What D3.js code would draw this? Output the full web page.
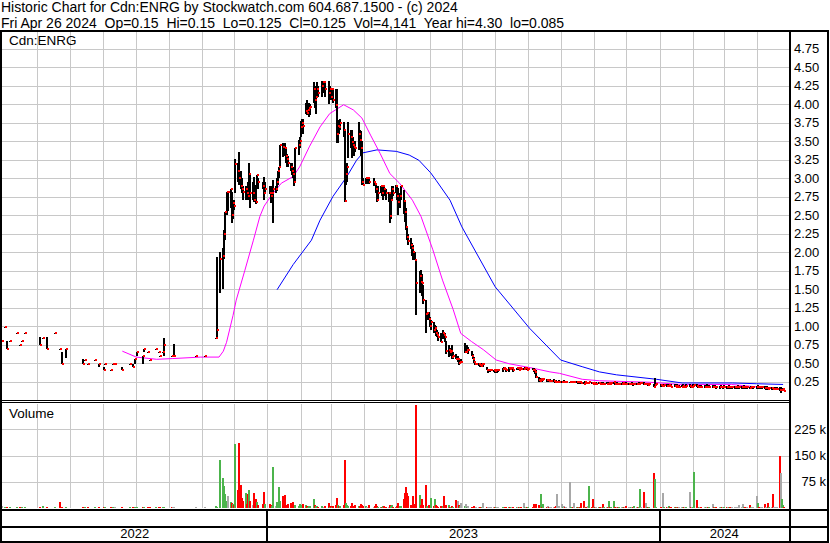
<!DOCTYPE html>
<html>
<head>
<meta charset="utf-8">
<script src="https://cdn.jsdelivr.net/npm/d3@7"></script>
<style>
  body { margin: 0; background: #fff; }
  svg { display: block; font-family: "Liberation Sans", Arial, sans-serif; }
</style>
</head>
<body>
<div id="chart"></div>
<script>
const _ = null;

// header texts
const titleLine = "Historic Chart for Cdn:ENRG by Stockwatch.com 604.687.1500 - (c) 2024";
const quoteLine = "Fri Apr 26 2024  Op=0.15  Hi=0.15  Lo=0.125  Cl=0.125  Vol=4,141  Year hi=4.30  lo=0.085";

// axis labels
const priceTicks = [0.25,0.5,0.75,1,1.25,1.5,1.75,2,2.25,2.5,2.75,3,3.25,3.5,3.75,4,4.25,4.5,4.75];
const volumeTicks = [75,150,225];
const years = ["2022","2023","2024"];

// thin trading before the daily run (H / L / C, volume in thousands)
const earlyDates = ["2022-04-29","2022-05-02","2022-05-04","2022-05-06","2022-05-13","2022-05-16","2022-05-18","2022-05-20",
  "2022-06-03","2022-06-06","2022-06-10","2022-06-17","2022-06-22","2022-06-24","2022-06-28","2022-07-13","2022-07-15",
  "2022-07-18","2022-07-25","2022-07-28","2022-08-02","2022-08-03","2022-08-08","2022-08-10","2022-08-12","2022-08-19",
  "2022-08-26","2022-08-29","2022-08-31","2022-09-02","2022-09-07","2022-09-08","2022-09-12","2022-09-14","2022-09-19",
  "2022-09-22","2022-09-23","2022-09-26","2022-09-27","2022-10-04","2022-10-05","2022-10-06","2022-10-27","2022-11-04"];
const earlyHigh  = [.80,.99,.80,.80,.90,.75,.80,.90,.85,.84,.85,.90,.69,.65,.69,.55,.54,.49,.54,.49,.45,.49,.41,.49,.49,.45,.49,.49,.55,.65,.60,.69,.65,.54,.69,.65,.60,.65,.84,.60,.60,.76,.60,.60];
const earlyLow   = [.80,.99,.69,.80,.90,.75,.80,.90,.74,.84,.69,.90,.69,.49,.57,.49,.54,.49,.54,.45,.41,.49,.41,.49,.49,.41,.49,.45,.49,.60,.49,.65,.65,.54,.69,.65,.60,.65,.60,.60,.60,.59,.60,.60];
const earlyClose = [.80,.99,.69,.80,.90,.75,.80,.90,.74,.84,.69,.90,.69,.49,.69,.49,.54,.49,.54,.49,.41,.49,.41,.49,.49,.41,.49,.45,.55,.65,.60,.69,.65,.54,.69,.65,.60,.65,.75,.60,.60,.60,.60,.60];
const earlyVolume = [7,2,3,2,1,2,1,2,3,6,4,2,17,3,2,2,1,2,1,2,3,1,2,1,2,3,2,1,2,3,2,1,2,1,2,1,2,1,3,2,4,2,1,1];

// daily run, one line per week Mon..Fri starting 2022-11-14 (null = no trade / holiday)
const dailyStart = "2022-11-14";
const dailyHigh = [
  .84,1.93,_,_,2.00, 2.05,2.30,2.54,2.81,2.81, 2.85,2.81,2.70,2.70,3.26, 3.20,3.35,3.10,3.00,2.89,
  2.89,2.89,2.95,3.20,3.05, 2.95,3.02,2.90,3.04,3.00, _,_,2.95,3.02,2.95, _,2.89,2.89,2.85,2.97,
  2.89,3.00,3.10,3.15,3.45, 3.47,3.47,3.40,3.32,3.30, 3.20,3.20,3.15,3.04,3.40, 3.51,3.55,3.77,3.80,3.80,
  4.02,4.05,4.00,4.01,4.00, 4.30,4.25,4.20,4.30,4.25, _,4.31,4.30,4.31,4.28, 4.31,4.25,4.20,4.20,4.20,
  4.20,4.20,3.78,3.76,3.80, 3.76,3.65,3.10,3.20,3.76, 3.65,3.65,3.55,3.45,3.50, 3.76,3.65,3.63,3.50,3.00,
  3.00,3.00,3.00,3.00,_, 3.00,2.95,2.92,2.89,2.89, 2.89,2.85,2.89,2.89,2.85, 2.81,2.80,2.75,2.89,2.89,
  2.90,2.89,2.86,2.80,2.89, 2.84,2.70,2.60,2.34,2.25, 2.19,2.12,2.10,2.00,1.90, _,1.75,1.76,1.70,1.55,
  1.35,1.19,1.19,1.12,1.08, 1.05,1.02,1.00,.95,.92, .90,.94,.92,.90,.80, .74,.70,.68,.74,.65,
  .62,.60,.57,.55,.55, _,.77,.74,.74,.72, .66,.62,.58,.52,.50, .50,.50,.48,.50,.50,
  .45,.41,.41,.41,.41, .41,.41,.41,.40,.41, _,.43,.45,.43,.42, .45,.43,.45,.43,.43,
  .43,.45,.43,.44,.43, .43,.45,.44,.43,.43, _,.43,.43,.42,.41, .31,.30,.30,.29,.30,
  .29,.28,.28,.28,.27, .28,.27,.27,.26,.27, .26,.26,.27,.26,.25, _,.25,.26,.26,.26,
  .26,.25,.26,.25,.25, .25,.26,.25,.24,.25, .25,.24,.25,.24,.25, .24,.25,.24,.24,.23,
  .24,.23,.24,.23,.24, .24,.23,.24,.23,.23, .23,.24,.23,.23,.24, .23,.23,.24,.23,.23,
  .23,.23,.24,.24,.24, .24,.23,.23,.22,.23, _,_,.22,.30,.23, _,.22,.22,.22,.21,
  .21,.21,.22,.21,.21, .21,.20,.21,.20,.20, .20,.21,.20,.20,.21, .21,.20,.20,.21,.21,
  .21,.20,.20,.20,.20, .20,.20,.21,.20,.20, _,.20,.19,.20,.19, .19,.20,.19,.19,.20,
  .19,.19,.20,.19,.19, .19,.19,.19,.20,.19, .19,.19,.20,.19,.19, .18,.19,.19,.19,_,
  .19,.20,.19,.19,.19, .19,.18,.19,.18,.18, .18,.18,.17,.17,.17, .17,.17,.16,.15,.15
];
const dailyLow = [
  .84,.84,_,_,1.45, 1.50,1.90,2.16,2.50,2.55, 2.60,2.39,2.45,2.57,2.80, 2.95,2.90,2.85,2.80,2.70,
  2.70,2.72,2.70,2.74,2.60, 2.70,2.68,2.65,2.89,2.85, _,_,2.85,2.70,2.78, _,2.78,2.66,2.70,2.39,
  2.80,2.82,2.90,3.00,3.15, 3.28,3.30,3.20,3.15,3.15, 3.10,3.04,3.00,2.89,2.95, 3.31,3.40,3.55,3.60,3.60,
  3.86,3.85,3.85,3.82,3.85, 4.01,3.95,3.87,4.08,4.10, _,4.10,4.15,4.15,4.10, 4.00,4.05,4.05,4.08,4.02,
  3.95,3.47,3.47,3.60,3.65, 3.55,2.68,2.90,2.95,3.27, 3.40,3.27,3.30,3.30,3.35, 3.38,3.45,3.30,2.90,2.90,
  2.92,2.92,2.95,2.92,_, 2.89,2.89,2.80,2.68,2.70, 2.80,2.75,2.70,2.75,2.70, 2.68,2.39,2.45,2.70,2.75,
  2.80,2.70,2.50,2.60,2.70, 2.52,2.40,2.30,2.16,2.10, 2.04,1.95,1.89,1.89,1.15, _,1.45,1.50,1.40,1.30,
  .90,1.08,1.08,.98,.95, .90,.90,.86,.85,.80, .78,.83,.83,.78,.62, .58,.60,.60,.56,.56,
  .55,.52,.47,.48,.50, _,.63,.66,.66,.62, .60,.55,.50,.47,.47, .46,.45,.45,.46,.45,
  .40,.37,.38,.38,.39, .38,.37,.38,.37,.38, _,.38,.40,.40,.38, .38,.40,.41,.40,.38,
  .40,.41,.40,.41,.40, .40,.42,.41,.40,.40, _,.40,.38,.35,.30, .25,.24,.26,.25,.26,
  .25,.24,.24,.25,.24, .24,.23,.23,.23,.23, .23,.23,.24,.23,.23, _,.23,.23,.23,.23,
  .23,.22,.23,.22,.22, .22,.23,.22,.21,.22, .22,.21,.22,.21,.22, .21,.22,.21,.20,.21,
  .21,.20,.21,.20,.21, .21,.20,.21,.20,.20, .20,.21,.20,.20,.20, .20,.20,.21,.19,.20,
  .20,.20,.21,.21,.21, .20,.20,.20,.19,.20, _,_,.17,.18,.19, _,.18,.18,.17,.18,
  .18,.17,.18,.17,.17, .17,.17,.17,.16,.17, .17,.17,.16,.17,.17, .17,.16,.17,.17,.17,
  .17,.16,.16,.17,.16, .16,.16,.17,.16,.16, _,.16,.16,.16,.15, .15,.16,.16,.15,.16,
  .15,.15,.16,.15,.15, .15,.15,.15,.16,.15, .15,.15,.16,.15,.15, .15,.15,.15,.15,_,
  .15,.16,.15,.15,.15, .15,.14,.15,.14,.14, .14,.14,.13,.13,.13, .12,.10,.12,.12,.125
];
const dailyClose = [
  .84,.95,_,_,1.90, 1.95,2.25,2.54,2.81,2.81, 2.85,2.50,2.66,2.62,3.19, 3.10,3.00,2.89,2.85,2.81,
  2.85,2.80,2.75,3.05,2.80, 2.80,2.70,2.68,3.04,2.95, _,_,2.89,2.80,2.85, _,2.80,2.75,2.80,2.85,
  2.85,2.95,3.10,3.15,3.45, 3.42,3.40,3.30,3.26,3.20, 3.15,3.10,3.05,2.95,3.40, 3.45,3.50,3.69,3.75,3.70,
  3.90,3.88,3.92,3.95,3.96, 4.20,4.05,4.10,4.20,4.15, _,4.25,4.30,4.30,4.20, 4.15,4.20,4.10,4.20,4.05,
  3.99,3.60,3.70,3.69,3.75, 3.65,2.69,3.05,3.15,3.60, 3.55,3.49,3.45,3.42,3.40, 3.60,3.51,3.40,2.95,2.90,
  3.00,3.00,3.00,2.95,_, 2.95,2.92,2.85,2.70,2.80, 2.89,2.80,2.89,2.85,2.80, 2.80,2.49,2.70,2.85,2.80,
  2.89,2.75,2.68,2.75,2.89, 2.69,2.54,2.34,2.20,2.15, 2.10,2.05,2.00,1.89,1.58, _,1.67,1.60,1.58,1.35,
  1.16,1.17,1.10,1.00,1.05, .94,.97,.90,.88,.85, .79,.90,.88,.85,.66, .68,.65,.66,.58,.60,
  .56,.56,.50,.52,.52, _,.65,.65,.68,.68, .60,.56,.52,.48,.48, .48,.47,.46,.48,.48,
  .40,.40,.40,.40,.40, .40,.39,.40,.40,.40, _,.42,.43,.42,.40, .43,.42,.43,.43,.40,
  .43,.43,.41,.43,.42, .42,.43,.43,.41,.42, _,.41,.40,.38,.31, .27,.26,.29,.27,.28,
  .27,.27,.26,.26,.26, .26,.25,.24,.24,.24, .24,.25,.25,.24,.24, _,.24,.25,.24,.24,
  .25,.24,.25,.24,.23, .22,.25,.23,.23,.24, .23,.22,.23,.22,.22, .23,.22,.22,.21,.22,
  .22,.21,.23,.22,.23, .24,.22,.22,.21,.22, .22,.23,.22,.22,.21, .21,.22,.22,.21,.22,
  .22,.21,.22,.23,.23, .21,.21,.22,.20,.21, _,_,.18,.20,.21, _,.20,.19,.19,.20,
  .19,.19,.20,.19,.18, .19,.18,.19,.18,.18, .18,.19,.18,.18,.19, .19,.18,.18,.19,.20,
  .19,.17,.18,.18,.17, .17,.18,.18,.17,.18, _,.18,.17,.18,.17, .17,.18,.17,.17,.18,
  .17,.17,.18,.17,.17, .17,.17,.17,.17,.17, .17,.17,.18,.17,.17, .16,.17,.17,.17,_,
  .17,.18,.17,.17,.17, .16,.16,.16,.15,.16, .16,.15,.15,.15,.15, .13,.13,.14,.15,.125
];
const dailyVolume = [
  6,4,_,_,138, 87,63,40,20,35, 17,15,12,10,182, 52,185,65,30,20,
  42,12,39,52,20, 8,44,25,17,10, _,_,12,46,11, _,11,8,6,116,
  5,17,8,59,20, 35,37,8,6,11, 15,6,17,8,10, 6,11,8,5,12,
  8,6,4,5,7, 25,8,5,6,4, _,5,4,3,6, 15,4,5,4,6,
  8,30,10,6,5, 10,137,15,8,6, 6,15,5,4,8, 5,6,11,9,6,
  5,3,2,8,_, 3,5,12,6,4, 4,3,5,6,3, 3,8,5,9,4,
  4,6,13,5,7, 25,44,59,44,35, 10,8,35,12,294, _,37,8,25,10,
  65,6,8,5,30, 5,25,8,6,4, 6,5,33,4,8, 10,1,4,6,3,
  22,20,8,5,13, _,6,11,4,5, 4,3,5,3,2, 2,3,2,4,13,
  3,3,2,2,1, 2,2,1,2,3, _,3,2,2,3, 2,3,2,1,3,
  2,1,2,2,3, 13,2,2,3,2, _,3,11,4,11, 8,6,41,3,11,
  3,5,2,4,2, 3,4,5,41,6, 11,3,5,4,3, _,73,4,3,15,
  3,4,2,3,15, 19,3,4,5,63, 3,25,4,3,2, 3,4,2,11,2,
  2,3,20,3,4, 20,3,4,3,2, 2,3,2,1,6, 2,2,2,3,6,
  2,2,3,54,3, 46,15,3,4,2, _,_,100,83,3, _,4,3,44,3,
  3,2,6,3,2, 3,2,3,2,1, 2,3,2,1,3, 47,3,2,2,104,
  23,3,2,2,2, 2,3,2,3,2, _,11,2,3,2, 2,1,2,3,2,
  2,1,3,2,1, 1,2,3,2,8, 2,11,3,2,2, 8,2,3,2,_,
  33,15,3,2,2, 11,2,3,15,2, 3,39,2,3,2, 150,99,27,8,4.141
];

// moving averages as drawn on the chart
const fastMaDates = ["2022-08-19","2022-09-01","2022-09-20","2022-10-05","2022-10-31","2022-11-17","2022-11-21","2022-11-24",
  "2022-11-27","2022-11-30","2022-12-03","2022-12-11","2022-12-19","2022-12-25","2022-12-29","2023-01-05","2023-01-14",
  "2023-01-25","2023-01-31","2023-02-09","2023-02-19","2023-02-28","2023-03-13","2023-03-22","2023-03-30","2023-04-07",
  "2023-04-16","2023-04-25","2023-05-04","2023-05-16","2023-05-24","2023-06-04","2023-06-13","2023-06-23","2023-06-30",
  "2023-07-10","2023-07-21","2023-08-02","2023-08-14","2023-09-05","2023-09-21","2023-09-30","2023-10-21","2023-11-06",
  "2023-12-23","2024-01-21","2024-03-08","2024-04-06","2024-04-25"];
const fastMa = [.66,.58,.55,.56,.58,.58,.66,.78,.96,1.14,1.35,1.75,2.16,2.48,2.62,2.77,2.93,3.02,3.15,3.42,3.69,3.87,3.99,
  3.92,3.81,3.58,3.33,3.06,2.93,2.70,2.48,2.03,1.62,1.22,.90,.79,.68,.54,.49,.43,.38,.36,.28,.26,.24,.21,.21,.17,.14];
const slowMaDates = ["2023-01-10","2023-01-25","2023-02-11","2023-02-19","2023-03-03","2023-03-16","2023-03-25","2023-03-31",
  "2023-04-13","2023-05-01","2023-05-13","2023-05-22","2023-06-02","2023-06-07","2023-06-20","2023-07-01","2023-08-01",
  "2023-09-02","2023-10-01","2023-10-21","2023-11-06","2023-11-22","2023-12-29","2024-01-22","2024-03-09","2024-03-31","2024-04-25"];
const slowMa = [1.49,1.83,2.16,2.43,2.75,3.02,3.24,3.34,3.38,3.36,3.31,3.24,3.07,2.97,2.70,2.34,1.53,.97,.54,.45,.38,.34,.28,.23,.23,.22,.21];

const parse = d3.timeParse("%Y-%m-%d");

// collect every traded day
let bars = [];
earlyDates.forEach(function(d, i) {
  bars.push({date: parse(d), hi: earlyHigh[i], lo: earlyLow[i], cl: earlyClose[i], vol: earlyVolume[i]});
});
const start = parse(dailyStart);
dailyClose.forEach(function(c, i) {
  if (c === null) return;
  bars.push({
    date: d3.timeDay.offset(start, Math.floor(i / 5) * 7 + i % 5),
    hi: dailyHigh[i], lo: dailyLow[i], cl: c, vol: dailyVolume[i]
  });
});
bars.forEach(function(d, i) {
  let prev = i > 0 ? bars[i - 1].cl : d.cl;
  d.dir = d.cl > prev ? "up" : d.cl < prev ? "down" : "flat";
});

let width = 830, height = 543;

let x = d3.scaleTime()
  .domain([new Date(2022, 3, 29), new Date(2024, 3, 30, 12)])
  .range([2, 789]);
let y = d3.scaleLinear().domain([0, 5]).range([400, 30]);
let yVol = d3.scaleLinear().domain([0, 300]).range([508, 403]);

let volColor = {up: "#4cb44c", down: "#ff0000", flat: "#a8a8a8"};

let svg = d3.select("#chart").append("svg")
  .attr("width", width)
  .attr("height", height);

svg.append("rect").attr("width", width).attr("height", height).attr("fill", "#fff");

// header
let head = svg.append("g").attr("font-size", "14px").attr("fill", "#000");
head.append("text").attr("x", 1).attr("y", 12.3).attr("xml:space", "preserve").text(titleLine);
head.append("text").attr("x", 1).attr("y", 28).attr("xml:space", "preserve").text(quoteLine);

// grid
let grid = svg.append("g").attr("shape-rendering", "crispEdges");
let months = d3.timeMonth.range(new Date(2022, 5, 1), new Date(2024, 4, 1));

grid.append("g")
  .attr("transform", "translate(789,0)")
  .call(d3.axisLeft(y).tickValues(priceTicks).tickSize(787).tickFormat(""))
  .call(g => g.select(".domain").remove())
  .call(g => g.selectAll("line").attr("stroke", "#c8c8c8"));

grid.append("g")
  .attr("transform", "translate(789,0)")
  .call(d3.axisLeft(yVol).tickValues(volumeTicks).tickSize(787).tickFormat(""))
  .call(g => g.select(".domain").remove())
  .call(g => g.selectAll("line").attr("stroke", "#c8c8c8"));

grid.append("g")
  .attr("transform", "translate(0,400)")
  .call(d3.axisTop(x).tickValues(months).tickSize(368).tickFormat(""))
  .call(g => g.select(".domain").remove())
  .call(g => g.selectAll("line").attr("stroke", "#c8c8c8"));

grid.append("g")
  .attr("transform", "translate(0,508)")
  .call(d3.axisTop(x).tickValues(months).tickSize(104).tickFormat(""))
  .call(g => g.select(".domain").remove())
  .call(g => g.selectAll("line").attr("stroke", "#c8c8c8"));

// volume bars
svg.append("g").attr("shape-rendering", "crispEdges")
  .selectAll("rect").data(bars).join("rect")
    .attr("x", d => Math.round(x(d.date)) - 1)
    .attr("width", 2)
    .attr("y", d => Math.min(Math.round(yVol(d.vol)), 507))
    .attr("height", d => 508 - Math.min(Math.round(yVol(d.vol)), 507))
    .attr("fill", d => volColor[d.dir]);

// moving averages
let line = d3.line().x(d => x(d[0])).y(d => y(d[1]));
svg.append("path")
  .datum(slowMaDates.map((d, i) => [parse(d), slowMa[i]]))
  .attr("d", line).attr("fill", "none").attr("stroke", "#0000ff").attr("stroke-width", 1);
svg.append("path")
  .datum(fastMaDates.map((d, i) => [parse(d), fastMa[i]]))
  .attr("d", line).attr("fill", "none").attr("stroke", "#ff00ff").attr("stroke-width", 1);

// price bars with close marks
let price = svg.append("g").attr("shape-rendering", "crispEdges");
price.selectAll("rect.hl").data(bars).join("rect")
  .attr("class", "hl")
  .attr("x", d => Math.round(x(d.date)) - 1)
  .attr("width", 2)
  .attr("y", d => Math.round(y(d.hi)))
  .attr("height", d => Math.max(1, Math.round(y(d.lo)) - Math.round(y(d.hi))))
  .attr("fill", "#000");
price.selectAll("rect.cl").data(bars).join("rect")
  .attr("class", "cl")
  .attr("x", d => Math.round(x(d.date)))
  .attr("width", 2)
  .attr("y", d => Math.round(y(d.cl)) - 1)
  .attr("height", 2)
  .attr("fill", "#ff0000");

// frame
let frame = svg.append("g").attr("fill", "#000").attr("shape-rendering", "crispEdges");
frame.append("rect").attr("x", 0).attr("y", 30).attr("width", 829).attr("height", 2);
frame.append("rect").attr("x", 0).attr("y", 30).attr("width", 2).attr("height", 513);
frame.append("rect").attr("x", 827).attr("y", 30).attr("width", 2).attr("height", 513);
frame.append("rect").attr("x", 789).attr("y", 30).attr("width", 2).attr("height", 513);
frame.append("rect").attr("x", 0).attr("y", 400).attr("width", 790).attr("height", 1);
frame.append("rect").attr("x", 0).attr("y", 402).attr("width", 790).attr("height", 1);
frame.append("rect").attr("x", 0).attr("y", 509).attr("width", 829).attr("height", 2);
frame.append("rect").attr("x", 0).attr("y", 526).attr("width", 829).attr("height", 2);
frame.append("rect").attr("x", 0).attr("y", 541).attr("width", 829).attr("height", 2);

// year separators and labels in the date band
let yearStarts = years.map(t => parse(t + "-01-01"));
let bounds = [x.range()[0]].concat(yearStarts.slice(1).map(d => x(d)), [x.range()[1]]);
frame.selectAll("rect.yr").data(yearStarts.slice(1)).join("rect")
  .attr("class", "yr")
  .attr("x", d => Math.round(x(d)) - 1)
  .attr("y", 510).attr("width", 2).attr("height", 32);
svg.append("g").attr("font-size", "13px").attr("text-anchor", "middle")
  .selectAll("text").data(years).join("text")
    .attr("x", (d, i) => (bounds[i] + bounds[i + 1]) / 2)
    .attr("y", 538)
    .text(d => d);

// right axes
svg.append("g")
  .attr("transform", "translate(791,0)")
  .call(d3.axisRight(y).tickValues(priceTicks).tickSize(0).tickPadding(3).tickFormat(d3.format(".2f")))
  .call(g => g.select(".domain").remove())
  .call(g => g.selectAll("text").attr("font-size", "13px").attr("font-family", "Liberation Sans, Arial, sans-serif").attr("fill", "#000"));

svg.append("g")
  .attr("transform", "translate(826,0)")
  .call(d3.axisLeft(yVol).tickValues(volumeTicks).tickSize(0).tickPadding(0).tickFormat(d => d + " k"))
  .call(g => g.select(".domain").remove())
  .call(g => g.selectAll("text").attr("font-size", "13px").attr("font-family", "Liberation Sans, Arial, sans-serif").attr("fill", "#000"));

// panel captions
svg.append("text").attr("x", 9).attr("y", 45).attr("font-size", "13.5px").text("Cdn:ENRG");
svg.append("text").attr("x", 9).attr("y", 418).attr("font-size", "13.5px").text("Volume");
</script>
</body>
</html>
